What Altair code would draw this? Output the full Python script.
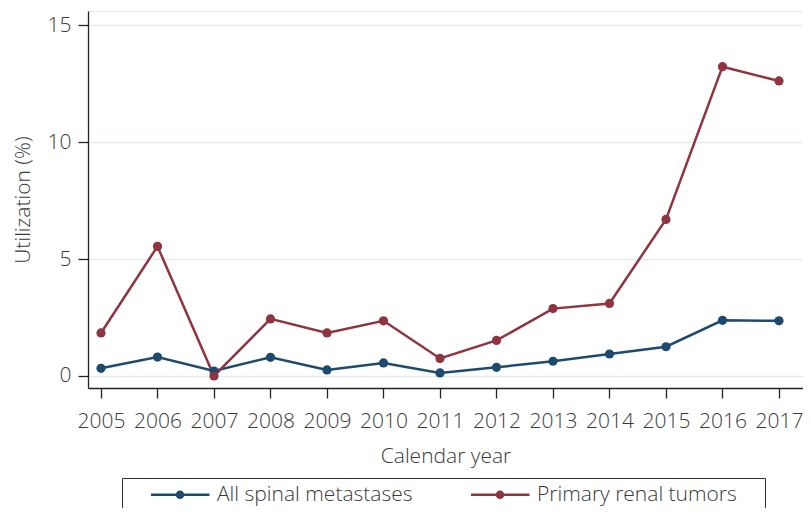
import altair as alt
import pandas as pd

years = [2005, 2006, 2007, 2008, 2009, 2010, 2011, 2012, 2013, 2014, 2015, 2016, 2017]
all_spinal = [0.33, 0.81, 0.21, 0.80, 0.26, 0.56, 0.13, 0.37, 0.63, 0.94, 1.25, 2.38, 2.36]
renal = [1.84, 5.54, 0.00, 2.44, 1.84, 2.36, 0.75, 1.52, 2.88, 3.10, 6.69, 13.22, 12.61]
series_names = ["All spinal metastases", "Primary renal tumors"]
series_colors = ["#1f4a70", "#8e3540"]
y_ticks = [0, 5, 10, 15]

rows = []
for y, a, r in zip(years, all_spinal, renal):
    rows.append({"year": y, "value": a, "series": series_names[0]})
    rows.append({"year": y, "value": r, "series": series_names[1]})
df = pd.DataFrame(rows)

FONT = "Open Sans"
TXT = "#3a3a3a"
FS = 21

x = alt.X(
    "year:Q",
    scale=alt.Scale(domain=[2004.770, 2017.425], nice=False, zero=False),
    axis=alt.Axis(
        title="Calendar year",
        values=years,
        format="d",
        grid=False,
        tickSize=10,
        labelPadding=12,
        titlePadding=14,
        labelFlush=False,
        labelOverlap=False,
    ),
)
y = alt.Y(
    "value:Q",
    scale=alt.Scale(domain=[-0.513, 15.6], nice=False, zero=False),
    axis=alt.Axis(
        title="Utilization (%)",
        values=y_ticks,
        grid=True,
        tickSize=10,
        labelPadding=7,
        titlePadding=14,
    ),
)
color = alt.Color(
    "series:N",
    scale=alt.Scale(domain=series_names, range=series_colors),
    legend=alt.Legend(
        title=".",
        titleOrient="right",
        titleColor="transparent",
        titleFontSize=6,
        titlePadding=20,
        orient="none",
        legendX=34,
        legendY=467,
        direction="horizontal",
        symbolType="M12.5,0H71M38.5,0A3,3 0 1,1 44.5,0A3,3 0 1,1 38.5,0Z",
        symbolSize=4,
        symbolStrokeWidth=2.5,
        labelFontSize=FS,
        labelFont=FONT,
        labelFontWeight=300,
        labelColor=TXT,
        labelOffset=68,
        labelLimit=400,
        columnPadding=35,
        padding=6,
        strokeColor="#333333",
    ),
)

base = alt.Chart(df).encode(x=x, y=y, color=color)
lines = base.mark_line(strokeWidth=2.5)
points = base.mark_point(filled=True, size=85, opacity=1)

chart = (
    alt.layer(lines, points)
    .properties(
        width=715,
        height=377,
        autosize=alt.AutoSizeParams(type="none"),
        padding={"left": 80, "top": 3, "right": 0, "bottom": 120},
    )
    .configure_view(stroke="#dfe7ea", strokeWidth=1)
    .configure_axis(
        labelFont=FONT,
        titleFont=FONT,
        labelFontSize=FS,
        titleFontSize=FS,
        labelFontWeight=300,
        titleFontWeight=300,
        labelColor=TXT,
        titleColor=TXT,
        domainColor="#222222",
        domainWidth=1.3,
        tickColor="#222222",
        tickWidth=1.3,
        gridColor="#e2ecef",
        gridWidth=1.5,
    )
)

chart.save("out.html", embed_options={"renderer": "svg", "actions": False})
